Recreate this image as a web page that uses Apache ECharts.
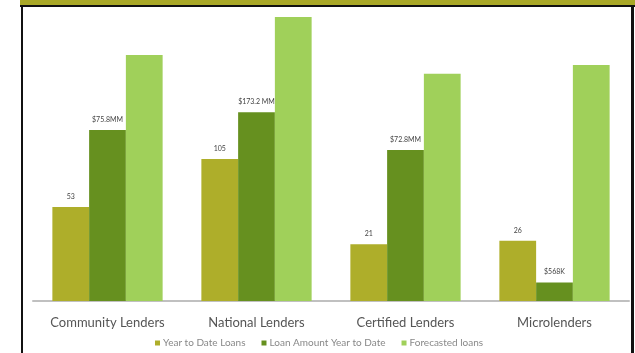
<!DOCTYPE html>
<html>
<head>
<meta charset="utf-8">
<script src="https://cdn.jsdelivr.net/npm/echarts@6/dist/echarts.min.js"></script>
<style>
html,body{margin:0;padding:0;background:#fff;}
#chart{width:635px;height:353px;}
</style>
</head>
<body>
<div id="chart"></div>
<script>
const categories = ['Community Lenders', 'National Lenders', 'Certified Lenders', 'Microlenders'];
const seriesNames = ['Year to Date Loans', 'Loan Amount Year to Date', 'Forecasted loans'];
// bar heights in chart units (axis 0..100)
const ytdLoans = [33.1, 50.0, 20.0, 21.2];
const loanAmount = [60.2, 66.5, 53.2, 6.5];
const forecasted = [86.6, 100, 80.0, 83.1];
// data label texts shown above bars
const ytdLabels = ['53', '105', '21', '26'];
const amountLabels = ['$75.8MM', '$173.2 MM', '$72.8MM', '$568K'];

const colors = ['#aeae2a', '#66901f', '#a0d05a'];

function mkLabel(texts) {
  return {
    show: true, position: 'top', distance: 7,
    fontSize: 7, color: '#444', fontFamily: 'Lato',
    formatter: p => texts[p.dataIndex]
  };
}

const chart = echarts.init(document.getElementById('chart'), null, {renderer: 'canvas'});
chart.setOption({
  animation: false,
  backgroundColor: '#ffffff',
  color: colors,
  graphic: [
    {type: 'rect', left: 20, top: 0, shape: {width: 615, height: 6}, style: {fill: '#a9a827'}, z: 10},
    {type: 'rect', left: 20, top: 5, shape: {width: 615, height: 2}, style: {fill: '#111'}, z: 10},
    {type: 'rect', left: 21, top: 5, shape: {width: 2, height: 348}, style: {fill: '#111'}, z: 10},
    {type: 'rect', left: 631, top: 5, shape: {width: 3, height: 348}, style: {fill: '#111'}, z: 10}
  ],
  grid: {left: 33, right: 6, top: 17, bottom: 52, containLabel: false},
  legend: {
    data: seriesNames,
    left: 150, top: 333,
    itemWidth: 5, itemHeight: 5, itemGap: 16,
    icon: 'rect',
    textStyle: {fontSize: 10, color: '#888', fontFamily: 'Lato', padding: [0, 0, 0, -2]}
  },
  xAxis: {
    type: 'category', data: categories,
    axisLine: {lineStyle: {color: '#c0c0c0', width: 2}},
    axisTick: {show: false},
    axisLabel: {fontSize: 13, color: '#555', fontFamily: 'Lato', margin: 15}
  },
  yAxis: {
    type: 'value', min: 0, max: 100,
    show: false, splitLine: {show: false}
  },
  series: [
    {name: seriesNames[0], type: 'bar', data: ytdLoans, barGap: '0%', barCategoryGap: '26%', label: mkLabel(ytdLabels)},
    {name: seriesNames[1], type: 'bar', data: loanAmount, label: mkLabel(amountLabels)},
    {name: seriesNames[2], type: 'bar', data: forecasted}
  ]
});
</script>
</body>
</html>
